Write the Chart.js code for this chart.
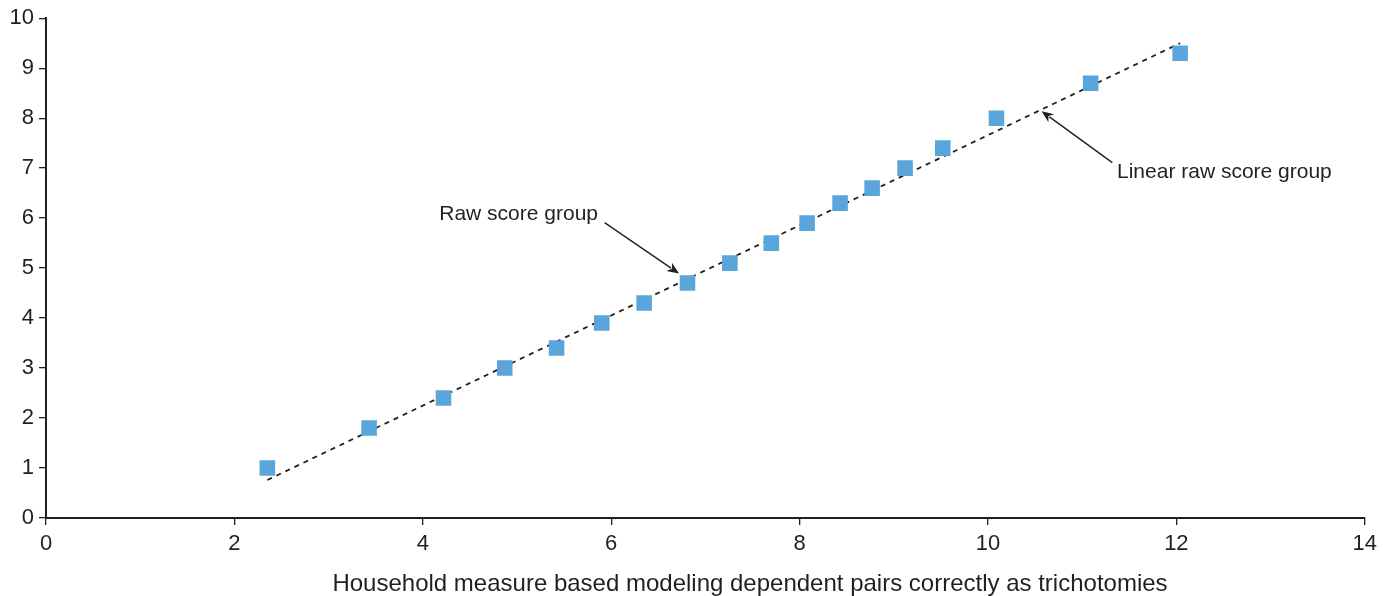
<!DOCTYPE html>
<html>
<head>
<meta charset="utf-8">
<script src="https://cdn.jsdelivr.net/npm/chart.js@4/dist/chart.umd.min.js"></script>
<style>
html,body{margin:0;padding:0;background:#fff;}
#wrap{width:1383px;height:596px;position:relative;}
</style>
</head>
<body>
<div id="wrap"><canvas id="c" width="1383" height="596"></canvas></div>
<script>
const xValues = [2.35, 3.43, 4.22, 4.87, 5.42, 5.90, 6.35, 6.81, 7.26, 7.70, 8.08, 8.43, 8.77, 9.12, 9.52, 10.09, 11.09, 12.04];
const yValues = [1.0, 1.8, 2.4, 3.0, 3.4, 3.9, 4.3, 4.7, 5.1, 5.5, 5.9, 6.3, 6.6, 7.0, 7.4, 8.0, 8.7, 9.3];
const trendX = [2.35, 12.04];
const trendY = [0.76, 9.50];
const xTicks = [0, 2, 4, 6, 8, 10, 12, 14];
const yTicks = [0, 1, 2, 3, 4, 5, 6, 7, 8, 9, 10];
const xTitle = 'Household measure based modeling dependent pairs correctly as trichotomies';
const seriesName = 'Raw score group';
const trendName = 'Linear raw score group';

const FONT = '"Liberation Sans", Arial, sans-serif';
const AXIS = '#231f20';

const annotationPlugin = {
  id: 'annots',
  afterDraw(chart) {
    const ctx = chart.ctx;
    const xs = chart.scales.x, ys = chart.scales.y;
    const px = v => xs.getPixelForValue(v), py = v => ys.getPixelForValue(v);
    function arrow(x1, y1, x2, y2) {
      const X1 = px(x1), Y1 = py(y1), X2 = px(x2), Y2 = py(y2);
      const ang = Math.atan2(Y2 - Y1, X2 - X1);
      const L = 12, W = 5;
      ctx.save();
      ctx.strokeStyle = AXIS; ctx.fillStyle = AXIS; ctx.lineWidth = 1.4;
      ctx.beginPath();
      ctx.moveTo(X1, Y1);
      ctx.lineTo(X2 - Math.cos(ang) * L * 0.8, Y2 - Math.sin(ang) * L * 0.8);
      ctx.stroke();
      ctx.beginPath();
      ctx.moveTo(X2, Y2);
      ctx.lineTo(X2 - Math.cos(ang) * L + Math.sin(ang) * W, Y2 - Math.sin(ang) * L - Math.cos(ang) * W);
      ctx.lineTo(X2 - Math.cos(ang) * L * 0.7, Y2 - Math.sin(ang) * L * 0.7);
      ctx.lineTo(X2 - Math.cos(ang) * L - Math.sin(ang) * W, Y2 - Math.sin(ang) * L + Math.cos(ang) * W);
      ctx.closePath();
      ctx.fill();
      ctx.restore();
    }
    ctx.save();
    ctx.font = '21px ' + FONT;
    ctx.fillStyle = AXIS;
    ctx.textBaseline = 'middle';
    ctx.textAlign = 'right';
    ctx.fillText(seriesName, px(5.86), py(6.07));
    ctx.textAlign = 'left';
    ctx.fillText(trendName, px(11.37), py(6.91));
    ctx.font = '24px ' + FONT;
    ctx.textAlign = 'center';
    ctx.fillText(xTitle, 750, 584);
    ctx.restore();
    arrow(5.93, 5.91, 6.72, 4.89);
    arrow(11.32, 7.11, 10.57, 8.14);
  }
};

new Chart(document.getElementById('c'), {
  type: 'scatter',
  data: {
    datasets: [
      {
        label: seriesName,
        data: xValues.map((x, i) => ({x: x, y: yValues[i]})),
        pointStyle: 'rect',
        pointRadius: 11,
        pointHoverRadius: 11,
        backgroundColor: '#5aa5da',
        borderColor: '#5aa5da',
        borderWidth: 0,
        order: 1
      },
      {
        label: trendName,
        type: 'line',
        data: trendX.map((x, i) => ({x: x, y: trendY[i]})),
        borderColor: '#231f20',
        borderWidth: 1.8,
        borderDash: [5, 5],
        pointRadius: 0,
        fill: false,
        order: 2
      }
    ]
  },
  options: {
    responsive: false,
    animation: false,
    events: [],
    layout: {padding: {top: 17, right: 17, left: 0, bottom: 0}},
    plugins: {legend: {display: false}, tooltip: {enabled: false}},
    scales: {
      x: {
        type: 'linear', min: 0, max: 14,
        afterBuildTicks: s => { s.ticks = xTicks.map(v => ({value: v})); },
        afterFit: s => { s.height = 78; },
        grid: {drawOnChartArea: false, drawTicks: true, tickLength: 7, color: AXIS, lineWidth: 1.3},
        border: {display: true, color: AXIS, width: 2},
        ticks: {color: AXIS, font: {family: FONT, size: 22}, padding: 6, maxRotation: 0}
      },
      y: {
        type: 'linear', min: 0, max: 10,
        afterBuildTicks: s => { s.ticks = yTicks.map(v => ({value: v})); },
        afterFit: s => { s.width = 46; },
        grid: {drawOnChartArea: false, drawTicks: true, tickLength: 7, color: AXIS, lineWidth: 1.3},
        border: {display: true, color: AXIS, width: 2},
        ticks: {color: AXIS, font: {family: FONT, size: 22}, padding: 5}
      }
    }
  },
  plugins: [annotationPlugin]
});
</script>
</body>
</html>
